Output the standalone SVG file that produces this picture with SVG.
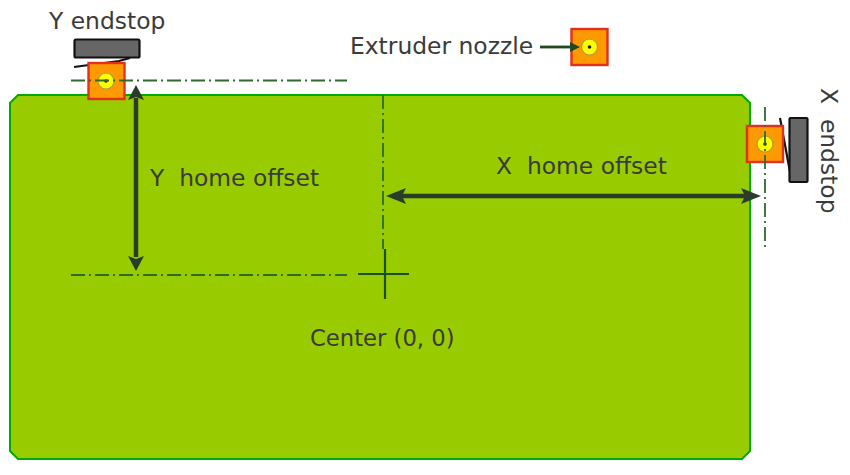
<svg xmlns="http://www.w3.org/2000/svg" width="850" height="475" viewBox="0 0 850 475">
<style>
text{font-family:"DejaVu Sans",sans-serif;font-size:23.400px;fill:#3a3a3a}
.dd{fill:none;stroke:#2f6b2f;stroke-width:1.800;stroke-dasharray:14 4 2 4}
.ar{fill:none;stroke:#2a3d2a;stroke-width:4.500}
.hd{fill:#2a3d2a}
.sq{fill:#ff9900;stroke:#e03020;stroke-width:2.400}
.noz{fill:#ffff00;stroke:#a0a040;stroke-width:1.200}
.pin{fill:#222}
.stop{fill:#666;stroke:#111;stroke-width:2.200}
.lev{fill:none;stroke:#111;stroke-width:2.200}
</style>
<g id="bed"><path d="M18 95H742L750 103V451L742 459H18L10 451V103Z" fill="#99cc00" stroke="#00aa00" stroke-width="2"/></g>
<g id="y-endstop">
<path class="lev" d="M74 67L119 61L130 58"/>
<rect class="stop" x="74.500" y="39.500" width="65" height="18" rx="1.500"/>
<rect class="sq" x="88.500" y="63" width="36" height="36"/>
<circle class="noz" cx="106" cy="81" r="8"/><circle class="pin" cx="106" cy="81" r="1.800"/>
</g>
<g id="x-endstop">
<path class="lev" d="M780 118L790 172"/>
<rect class="stop" x="789.500" y="118" width="18" height="64" rx="1"/>
<rect class="sq" x="747" y="126" width="36" height="36"/>
<circle class="noz" cx="765" cy="144" r="8"/><circle class="pin" cx="765" cy="144" r="1.800"/>
</g>
<g id="nozzle">
<rect class="sq" x="571.500" y="29" width="36" height="36"/>
<circle class="noz" cx="589.500" cy="47" r="8"/><circle class="pin" cx="589.500" cy="47" r="1.800"/>
</g>
<g id="center"><path d="M385 249V299M358 274H409" fill="none" stroke="#1a4d1a" stroke-width="2.200"/></g>
<g id="connectors">
<path class="dd" d="M71 80.500H347"/>
<path class="dd" d="M71 275H347"/>
<path class="dd" d="M383 95V249"/>
<path class="dd" d="M765 107V248"/>
<path class="ar" d="M136 98V257"/><path class="hd" d="M136 85L144 100L136 97L128 100ZM136 271L144 256L136 259L128 256Z"/>
<path class="ar" d="M398 196H748"/><path class="hd" d="M386 196L406 188L402 196L406 204ZM761 196L741 188L745 196L741 204Z"/>
<path d="M540 47H570" fill="none" stroke="#1f4a1f" stroke-width="2.800"/><path d="M580 47L570 42V52Z" fill="#1f4a1f"/>
</g>
<g id="labels">
<text x="49" y="29">Y endstop</text>
<text x="350" y="54">Extruder nozzle</text>
<text x="150" y="186" xml:space="preserve">Y  home offset</text>
<text x="496" y="174" xml:space="preserve">X  home offset</text>
<text x="310" y="346" style="font-size:22.700px">Center (0, 0)</text>
<text transform="translate(821 88) rotate(90)" xml:space="preserve">X  endstop</text>
</g>
</svg>
